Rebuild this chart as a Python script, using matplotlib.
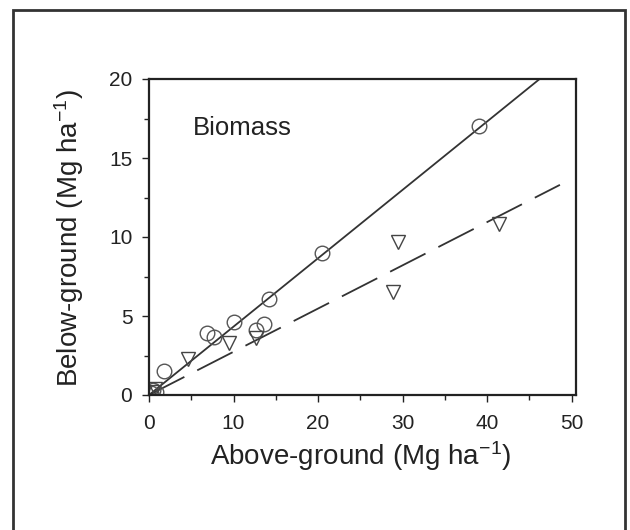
import matplotlib
matplotlib.use("Agg")
import matplotlib.pyplot as plt
from matplotlib.patches import Rectangle
from matplotlib.ticker import MultipleLocator

plt.rcParams['font.family'] = ['Liberation Sans', 'DejaVu Sans']
plt.rcParams['mathtext.fontset'] = 'custom'
plt.rcParams['mathtext.rm'] = 'Liberation Sans'
plt.rcParams['mathtext.it'] = 'Liberation Sans:italic'

# Data (Mg ha-1)
circle_x = [0.2, 0.5, 0.8, 1.8, 6.9, 7.7, 10.0, 12.7, 13.6, 14.2, 20.5, 39.0]
circle_y = [0.1, 0.3, 0.2, 1.5, 3.9, 3.7, 4.6, 4.1, 4.5, 6.1, 9.0, 17.0]
tri_x = [0.3, 0.7, 4.6, 9.5, 12.7, 28.9, 29.4, 41.4]
tri_y = [0.2, 0.4, 2.3, 3.3, 3.6, 6.5, 9.7, 10.8]
solid_fit_x = [0.0, 46.2]
solid_fit_y = [0.0, 20.0]
dash_fit_x = [0.0, 48.6]
dash_fit_y = [0.0, 13.3]

W, H = 630, 530
fig = plt.figure(figsize=(6.3, 5.3), dpi=100)
ax = fig.add_axes([149 / W, 1 - 395 / H, (576 - 149) / W, (395 - 79) / H])

ax.plot(solid_fit_x, solid_fit_y, color='#333333', lw=1.3)
ax.plot(dash_fit_x, dash_fit_y, color='#333333', lw=1.3, dashes=(22, 8))
ax.plot(circle_x, circle_y, linestyle='none', marker='o', ms=10.5,
        mfc='none', mec='#555555', mew=1.0)
ax.plot(tri_x, tri_y, linestyle='none', marker='v', ms=10.5,
        mfc='none', mec='#444444', mew=1.0)

ax.set_xlim(0, 50.5)
ax.set_ylim(0, 20)
ax.xaxis.set_major_locator(MultipleLocator(10))
ax.xaxis.set_minor_locator(MultipleLocator(5))
ax.yaxis.set_major_locator(MultipleLocator(5))
ax.yaxis.set_minor_locator(MultipleLocator(2.5))
ax.tick_params(which='both', direction='out', labelsize=15, width=1.0,
               colors='#222222')
ax.tick_params(axis='x', which='both', pad=9)
ax.tick_params(axis='y', which='both', pad=7)
ax.tick_params(which='major', length=5)
ax.tick_params(which='minor', length=3.5)
for s in ax.spines.values():
    s.set_linewidth(1.6)
    s.set_color('#222222')

fig.text(361 / W, 1 - 456 / H, 'Above-ground (Mg ha$^{-1}$)', fontsize=20,
         ha='center', va='center', color='#222222')
fig.text(69 / W, 1 - 238 / H, 'Below-ground (Mg ha$^{-1}$)', fontsize=20,
         ha='center', va='center', rotation=90, color='#222222')
ax.text(5.2, 16.9, 'Biomass', fontsize=18.5, va='center', ha='left', color='#222222')

frame = Rectangle((13 / W, -0.05), (625 - 13) / W, 1.05 - 10 / H,
                  transform=fig.transFigure, fill=False, lw=2.0,
                  edgecolor='#333333', clip_on=False)
fig.patches.append(frame)

fig.savefig('out.png', dpi=100)
